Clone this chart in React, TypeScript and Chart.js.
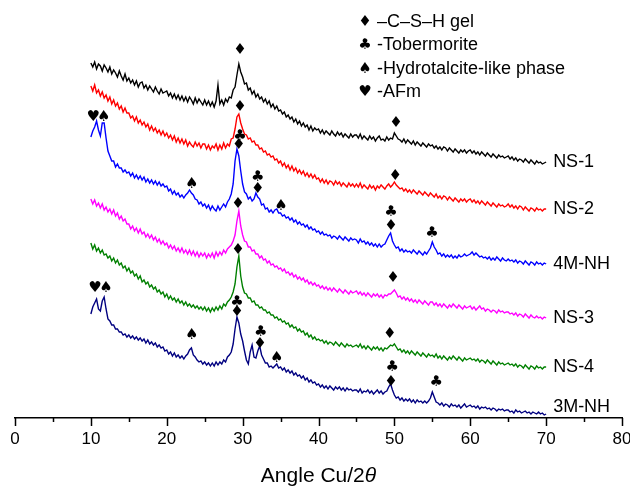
import React, { useEffect, useRef } from "react";
import { Chart, registerables } from "chart.js";
Chart.register(...registerables);

// 2θ sampling grid: 10° to 70° every 0.25°
const angleStart = 10;
const angleStep = 0.25;

// Offset intensities (a.u.), 20 samples per 5° row
const ns1 = [
  355,351,356,349,354,352,347,353,350,346,351,344,348,345,341,347,342,338,344,337,
  340,335,338,333,337,331,335,336,330,333,328,332,329,326,331,327,324,329,325,326,
  327,322,325,320,324,319,323,318,322,317,321,316,321,318,314,320,315,319,316,313,
  318,313,317,312,316,311,317,333,314,318,313,319,316,321,320,328,331,343,354,346,
  341,334,335,328,330,324,327,321,324,319,321,316,319,314,317,311,314,309,312,307,
  308,304,306,301,303,299,301,296,299,294,297,292,295,291,293,288,292,287,290,288,
  289,285,288,284,287,285,283,287,284,282,286,283,285,281,284,282,280,284,281,283,
  283,280,284,279,282,280,278,282,279,281,277,280,282,278,279,277,281,278,280,279,
  285,282,279,278,276,279,275,278,276,274,277,273,276,274,272,275,273,271,274,272,
  273,270,272,269,271,268,271,270,267,270,268,266,269,267,265,268,266,268,265,267,
  268,265,267,264,266,263,266,264,262,265,263,261,264,262,260,263,261,262,260,261,
  262,259,261,258,260,257,259,258,256,259,257,255,258,256,254,257,255,256,254,255,
  256,
];
const ns2 = [
  332,327,333,325,328,322,326,320,323,317,321,314,318,312,315,309,312,306,310,305,
  305,300,302,297,301,295,298,293,296,291,294,288,292,287,290,285,288,283,287,282,
  285,280,283,278,282,276,280,275,279,274,278,272,276,273,271,276,272,275,270,274,
  274,269,273,268,272,270,274,268,273,269,275,270,274,272,279,280,289,301,304,295,
  289,284,283,279,280,276,277,273,273,269,270,266,267,263,264,261,262,258,259,255,
  257,252,255,250,253,248,252,247,250,245,248,244,247,242,245,241,244,240,243,239,
  240,236,239,235,238,234,237,236,233,237,234,236,232,235,233,231,235,232,234,231,
  234,231,235,230,233,231,229,233,230,232,228,232,230,233,231,229,232,234,231,233,
  236,233,231,229,230,227,229,226,228,225,228,226,224,227,225,223,226,224,222,225,
  223,221,224,220,222,219,222,221,218,221,219,217,220,218,216,219,217,219,216,218,
  219,216,218,215,217,214,217,215,213,216,214,212,215,213,211,214,212,213,211,212,
  214,211,213,210,212,209,212,211,208,211,209,207,210,209,207,210,208,209,207,209,
  209,
];
const m4nh = [
  281,287,291,297,288,282,295,295,280,267,262,257,257,251,254,250,250,246,248,245,
  246,242,245,240,243,239,242,238,241,236,239,235,238,234,237,233,236,232,234,231,
  232,227,229,224,227,223,225,221,223,220,223,225,228,225,223,219,218,214,216,212,
  214,210,213,208,212,209,207,212,208,211,214,211,216,219,224,234,257,269,262,247,
  234,226,224,219,221,217,219,225,221,219,213,214,209,210,206,208,205,208,209,205,
  205,202,203,200,201,198,200,196,198,194,196,193,194,191,193,189,191,188,189,186,
  187,184,186,183,184,182,183,180,182,181,179,182,180,178,181,179,177,180,178,179,
  178,175,179,176,177,174,176,173,175,172,174,171,174,171,173,174,178,182,185,177,
  173,170,171,167,169,166,168,166,167,165,168,166,164,167,165,163,166,164,167,170,
  176,171,168,164,165,162,164,161,163,161,163,160,162,160,163,161,162,164,162,163,
  164,166,163,165,163,161,162,160,161,159,161,158,160,158,161,159,157,160,158,157,
  159,157,158,156,158,155,157,156,154,157,155,153,156,155,153,156,154,155,153,155,
  154,
];
const ns3 = [
  219,214,218,212,215,210,214,208,211,206,209,204,208,202,205,199,202,197,199,194,
  194,189,192,187,190,185,189,184,186,181,184,180,183,178,181,176,179,174,177,173,
  175,170,173,169,172,167,170,166,170,165,168,164,168,163,167,162,166,161,165,162,
  165,160,164,161,165,160,166,162,166,163,168,165,169,171,173,177,183,197,207,192,
  183,177,176,171,171,167,168,164,164,160,162,158,159,155,157,153,154,151,152,149,
  150,147,149,145,146,143,145,141,143,139,141,138,140,136,138,134,136,133,135,132,
  133,130,132,129,131,128,130,127,130,128,126,129,127,125,128,126,124,127,125,126,
  127,124,126,123,125,122,125,123,121,124,122,124,121,123,120,123,122,124,124,126,
  128,125,121,122,119,121,118,120,117,119,116,118,115,118,116,114,117,115,113,116,
  116,113,115,112,114,111,114,112,110,113,111,114,112,110,113,111,109,112,110,111,
  112,109,111,108,110,112,109,110,107,109,108,106,108,107,105,108,106,107,105,106,
  106,104,105,103,105,102,104,103,101,104,102,100,103,101,100,102,100,101,99,101,
  100,
];
const ns4 = [
  175,169,173,167,170,165,168,163,164,160,162,157,160,155,158,153,155,150,152,147,
  150,145,147,142,144,139,142,136,138,134,136,131,133,129,131,126,128,124,126,121,
  124,119,122,118,120,116,119,115,117,113,116,112,114,111,113,110,112,109,111,108,
  111,107,110,106,110,107,111,108,112,109,114,112,116,118,121,126,134,151,162,142,
  131,125,124,120,120,116,117,113,113,110,111,108,108,105,106,103,103,100,101,98,
  99,96,97,94,95,91,93,90,91,87,89,86,87,83,85,81,83,79,81,78,
  79,77,78,75,77,74,76,75,73,76,74,72,75,73,71,74,72,73,71,72,
  73,71,74,70,72,69,72,70,68,71,69,71,68,70,67,70,69,71,73,72,
  74,71,68,69,66,68,65,67,64,67,65,63,66,64,62,65,63,61,64,62,
  63,61,64,60,62,59,62,60,58,61,59,62,60,58,61,59,57,60,58,59,
  60,58,59,57,59,56,58,57,55,58,56,54,57,55,53,56,54,55,53,54,
  55,53,54,52,54,51,53,52,50,53,51,49,52,51,49,52,50,51,49,51,
  51,
];
const m3nh = [
  104,111,115,119,109,107,117,121,109,99,97,93,93,89,89,86,86,83,84,81,
  83,80,82,79,81,78,80,77,79,75,78,74,76,73,75,71,73,70,71,67,
  68,64,66,62,65,61,63,60,62,59,62,64,68,70,63,61,58,56,57,54,
  56,53,55,52,55,52,56,53,56,54,58,56,61,63,66,74,89,101,95,84,
  77,67,58,54,66,73,61,60,67,72,63,59,55,55,51,52,50,52,54,50,
  51,48,50,46,48,45,47,43,45,42,43,40,42,38,40,36,38,35,36,33,
  34,31,33,30,32,29,32,30,28,31,29,31,28,30,27,30,28,29,27,28,
  28,26,29,25,27,26,28,25,27,24,26,28,25,27,24,26,27,31,34,28,
  23,20,21,18,20,17,19,17,19,16,18,15,18,16,17,15,17,15,17,20,
  26,21,16,15,13,15,12,14,13,11,14,12,13,11,13,10,12,14,11,12,
  13,11,12,10,12,9,11,10,11,9,10,8,10,9,7,9,8,9,7,8,
  8,6,7,5,8,6,7,5,6,7,5,6,4,6,5,4,6,4,5,3,
  4,
];

const seriesNames = ["NS-1", "NS-2", "4M-NH", "NS-3", "NS-4", "3M-NH"];
const seriesColors = ["#000000", "#ff0000", "#0000ff", "#ff00ff", "#008000", "#000080"];
const seriesValues = [ns1, ns2, m4nh, ns3, ns4, m3nh];

// Phase markers: angle, offset intensity, symbol
const markAngles = [29.65, 50.2, 29.65, 50.1, 10.3, 11.7, 29.65, 29.5, 23.3, 32.0, 32.0, 35.05, 49.55, 49.55, 54.95, 29.4, 49.8, 29.4, 49.4, 10.55, 12.0, 29.25, 29.25, 23.3, 32.4, 32.3, 34.5, 49.7, 49.55, 55.5];
const markValues = [368, 295, 311, 242, 301, 301, 282, 273, 234, 241, 229, 212, 206, 192, 185, 214, 140, 168, 84, 130, 130, 116, 106, 83, 86, 74, 60, 51, 36, 36];
const markSymbols = ["♦","♦","♦","♦","♥","♠","♣","♦","♠","♣","♦","♠","♣","♦","♣","♦","♦","♦","♦","♥","♠","♣","♦","♠","♣","♦","♠","♣","♦","♣"];

const legendSymbols = ["♦", "♣", "♠", "♥"];
const legendTexts = ["–C–S–H gel", "-Tobermorite", "-Hydrotalcite-like phase", "-AFm"];

const xTickValues = [0, 10, 20, 30, 40, 50, 60, 70, 80];
const axisTitleMain = "Angle Cu/2";
const axisTitleItalic = "θ";

const SANS = "'Liberation Sans', Arial, Helvetica, sans-serif";
const SYM = "'DejaVu Sans', sans-serif";

const decorPlugin = {
  id: "decor",
  afterDraw(chart: any) {
    const ctx = chart.ctx;
    const xs = chart.scales.x;
    const ys = chart.scales.y;
    ctx.save();
    // axis ticks (major every 10, minor every 5)
    ctx.strokeStyle = "#000";
    ctx.lineWidth = 1.5;
    for (let v = 0; v <= 80; v += 5) {
      const px = Math.round(xs.getPixelForValue(v)) + 0.5;
      const len = v % 10 === 0 ? 8 : 4;
      ctx.beginPath();
      ctx.moveTo(px, xs.top);
      ctx.lineTo(px, xs.top + len);
      ctx.stroke();
    }
    // axis title with italic theta
    ctx.fillStyle = "#000";
    ctx.textBaseline = "middle";
    ctx.textAlign = "left";
    const fMain = "21px " + SANS;
    const fIt = "italic 21px " + SANS;
    ctx.font = fMain;
    const w1 = ctx.measureText(axisTitleMain).width;
    ctx.font = fIt;
    const w2 = ctx.measureText(axisTitleItalic).width;
    const cx = (chart.chartArea.left + chart.chartArea.right) / 2;
    const ty = xs.top + 58;
    ctx.font = fMain;
    ctx.fillText(axisTitleMain, cx - (w1 + w2) / 2, ty);
    ctx.font = fIt;
    ctx.fillText(axisTitleItalic, cx - (w1 + w2) / 2 + w1, ty);

    // series labels at line ends
    ctx.font = "18px " + SANS;
    ctx.textAlign = "left";
    seriesNames.forEach((name, i) => {
      const vals = seriesValues[i];
      const last = vals[vals.length - 1];
      const lx = xs.getPixelForValue(70) + 7;
      let ly = ys.getPixelForValue(last);
      if (i === seriesNames.length - 1) ly -= 7;
      ctx.fillText(name, lx, ly);
    });

    // phase markers
    ctx.font = "15px " + SYM;
    ctx.textAlign = "center";
    markSymbols.forEach((s, i) => {
      ctx.fillText(s, xs.getPixelForValue(markAngles[i]), ys.getPixelForValue(markValues[i]));
    });

    // legend
    legendSymbols.forEach((s, i) => {
      const yy = 22 + i * 23.5;
      ctx.font = "15px " + SYM;
      ctx.textAlign = "center";
      ctx.fillText(s, 365, yy);
      ctx.font = "18px " + SANS;
      ctx.textAlign = "left";
      ctx.fillText(legendTexts[i], 377, yy);
    });
    ctx.restore();
  },
};

export default function App() {
  const ref = useRef<HTMLCanvasElement | null>(null);
  useEffect(() => {
    if (!ref.current) return;
    const datasets = seriesValues.map((vals, i) => ({
      label: seriesNames[i],
      data: vals.map((v, k) => ({ x: angleStart + k * angleStep, y: v })),
      borderColor: seriesColors[i],
      backgroundColor: seriesColors[i],
      borderWidth: 1.4,
      pointRadius: 0,
      tension: 0,
      fill: false,
    }));
    const chart = new Chart(ref.current, {
      type: "line",
      data: { datasets },
      options: {
        animation: false,
        responsive: false,
        devicePixelRatio: 1,
        layout: { padding: { left: 15, right: 8, top: 0, bottom: 0 } },
        plugins: { legend: { display: false }, tooltip: { enabled: false }, title: { display: false } },
        scales: {
          x: {
            type: "linear",
            min: 0,
            max: 80,
            border: { display: true, color: "#000", width: 1.5 },
            grid: { display: true, drawOnChartArea: false, drawTicks: false },
            afterBuildTicks: (s: any) => {
              s.ticks = xTickValues.map((v) => ({ value: v }));
            },
            afterFit: (s: any) => {
              s.height = 70;
              s.paddingLeft = 0;
              s.paddingRight = 0;
            },
            ticks: {
              padding: 11,
              color: "#000",
              maxRotation: 0,
              autoSkip: false,
              font: { family: SANS, size: 17 },
            },
          },
          y: { display: false, min: 0, max: 418 },
        },
      },
      plugins: [decorPlugin],
    });
    return () => chart.destroy();
  }, []);
  return (
    <div style={{ position: "absolute", left: 0, top: 0, width: 630, height: 488, background: "#fff" }}>
      <canvas ref={ref} width={630} height={488} style={{ width: 630, height: 488 }} />
    </div>
  );
}
